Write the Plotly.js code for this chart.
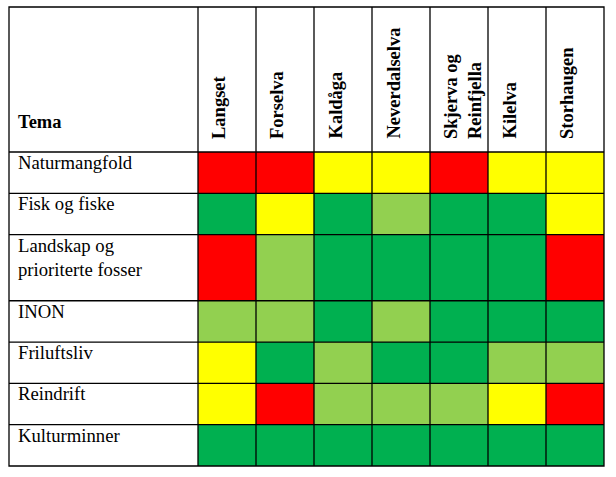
<!DOCTYPE html>
<html>
<head>
<meta charset="utf-8">
<script src="https://cdn.plot.ly/plotly-3.0.1.min.js"></script>
<style>html,body{margin:0;padding:0;background:#fff;}#chart{width:616px;height:477px;}</style>
</head>
<body>
<div id="chart"></div>
<script>
// ---- data ----
const headerLabel = "Tema";
const columns = ["Langset", "Forselva", "Kaldåga", "Neverdalselva", "Skjerva og<br>Reinfjella", "Kilelva", "Storhaugen"];
const themes = ["Naturmangfold", "Fisk og fiske", "Landskap og<br>prioriterte fosser", "INON", "Friluftsliv", "Reindrift", "Kulturminner"];
// 0 = rød, 1 = gul, 2 = lysegrønn, 3 = grønn
const ratingLevels = ["Rød", "Gul", "Lysegrønn", "Grønn"];
const ratingColors = ["#FF0000", "#FFFF00", "#92D050", "#00B050"];
const naturmangfold = [0, 0, 1, 1, 0, 1, 1];
const fiskOgFiske   = [3, 1, 3, 2, 3, 3, 1];
const landskap      = [0, 2, 3, 3, 3, 3, 0];
const inon          = [2, 2, 3, 2, 3, 3, 3];
const friluftsliv   = [1, 3, 2, 3, 3, 2, 2];
const reindrift     = [1, 0, 2, 2, 2, 1, 0];
const kulturminner  = [3, 3, 3, 3, 3, 3, 3];
const ratings = [naturmangfold, fiskOgFiske, landskap, inon, friluftsliv, reindrift, kulturminner];

// ---- layout geometry ----
const W = 616, H = 477;
const margin = {l: 9, r: 12, t: 7, b: 11, pad: 0};
const plotW = W - margin.l - margin.r;
const plotH = H - margin.t - margin.b;
const temaPx = 189, headerPx = 145;
const nCol = columns.length;
const colPx = (plotW - temaPx) / nCol;
const xMin = -temaPx / colPx;

const rowUnits = themes.map(t => 1 + 0.6 * (t.split("<br>").length - 1));
const yEdges = [0];
rowUnits.forEach(u => yEdges.push(yEdges[yEdges.length - 1] + u));
const yMax = yEdges[yEdges.length - 1];
const unitPx = (plotH - headerPx) / yMax;
const yMin = -headerPx / unitPx;
const xEdges = columns.map((c, i) => i).concat([nCol]);

const n = ratingColors.length;
const colorscale = [];
ratingColors.forEach((c, i) => { colorscale.push([i / n, c]); colorscale.push([(i + 1) / n, c]); });

const trace = {
  type: "heatmap",
  x: xEdges,
  y: yEdges,
  z: ratings,
  zmin: -0.5, zmax: n - 0.5,
  colorscale: colorscale,
  showscale: false,
  hoverinfo: "skip"
};

const font = "Liberation Serif, Times New Roman, serif";
const lineStyle = {color: "#000", width: 1.3};
const shapes = [];
shapes.push({type: "rect", xref: "paper", yref: "paper", x0: 0, x1: 1, y0: 0, y1: 1, line: lineStyle});
xEdges.slice(0, nCol).forEach(x => shapes.push({type: "line", xref: "x", yref: "paper", x0: x, x1: x, y0: 0, y1: 1, line: lineStyle}));
yEdges.slice(0, themes.length).forEach(y => shapes.push({type: "line", xref: "paper", yref: "y", x0: 0, x1: 1, y0: y, y1: y, line: lineStyle}));

const annotations = [];
annotations.push({text: "<b>" + headerLabel + "</b>", xref: "x", yref: "y", x: xMin, y: 0, xanchor: "left", yanchor: "bottom",
  xshift: 7, yshift: 18, showarrow: false, font: {family: font, size: 18.5, color: "#000"}});
themes.forEach((t, i) => annotations.push({text: t, xref: "x", yref: "y", x: xMin, y: yEdges[i], xanchor: "left", yanchor: "top",
  align: "left", xshift: 7, yshift: 2, showarrow: false, font: {family: font, size: 18.7, color: "#000"}}));
columns.forEach((c, i) => annotations.push({text: "<b>" + c.replace("<br>", "</b><br><b>") + "</b>", xref: "x", yref: "y", x: xEdges[i], y: 0,
  xanchor: "left", yanchor: "bottom", align: "left", textangle: -90, xshift: 9, yshift: 11, showarrow: false,
  font: {family: font, size: 18.5, color: "#000"}}));

const layout = {
  width: W, height: H, margin: margin,
  paper_bgcolor: "#fff", plot_bgcolor: "#fff",
  xaxis: {range: [xMin, nCol], visible: false, fixedrange: true},
  yaxis: {range: [yMax, yMin], visible: false, fixedrange: true},
  shapes: shapes, annotations: annotations, showlegend: false
};
Plotly.newPlot("chart", [trace], layout, {displayModeBar: false, staticPlot: true});
</script>
</body>
</html>
